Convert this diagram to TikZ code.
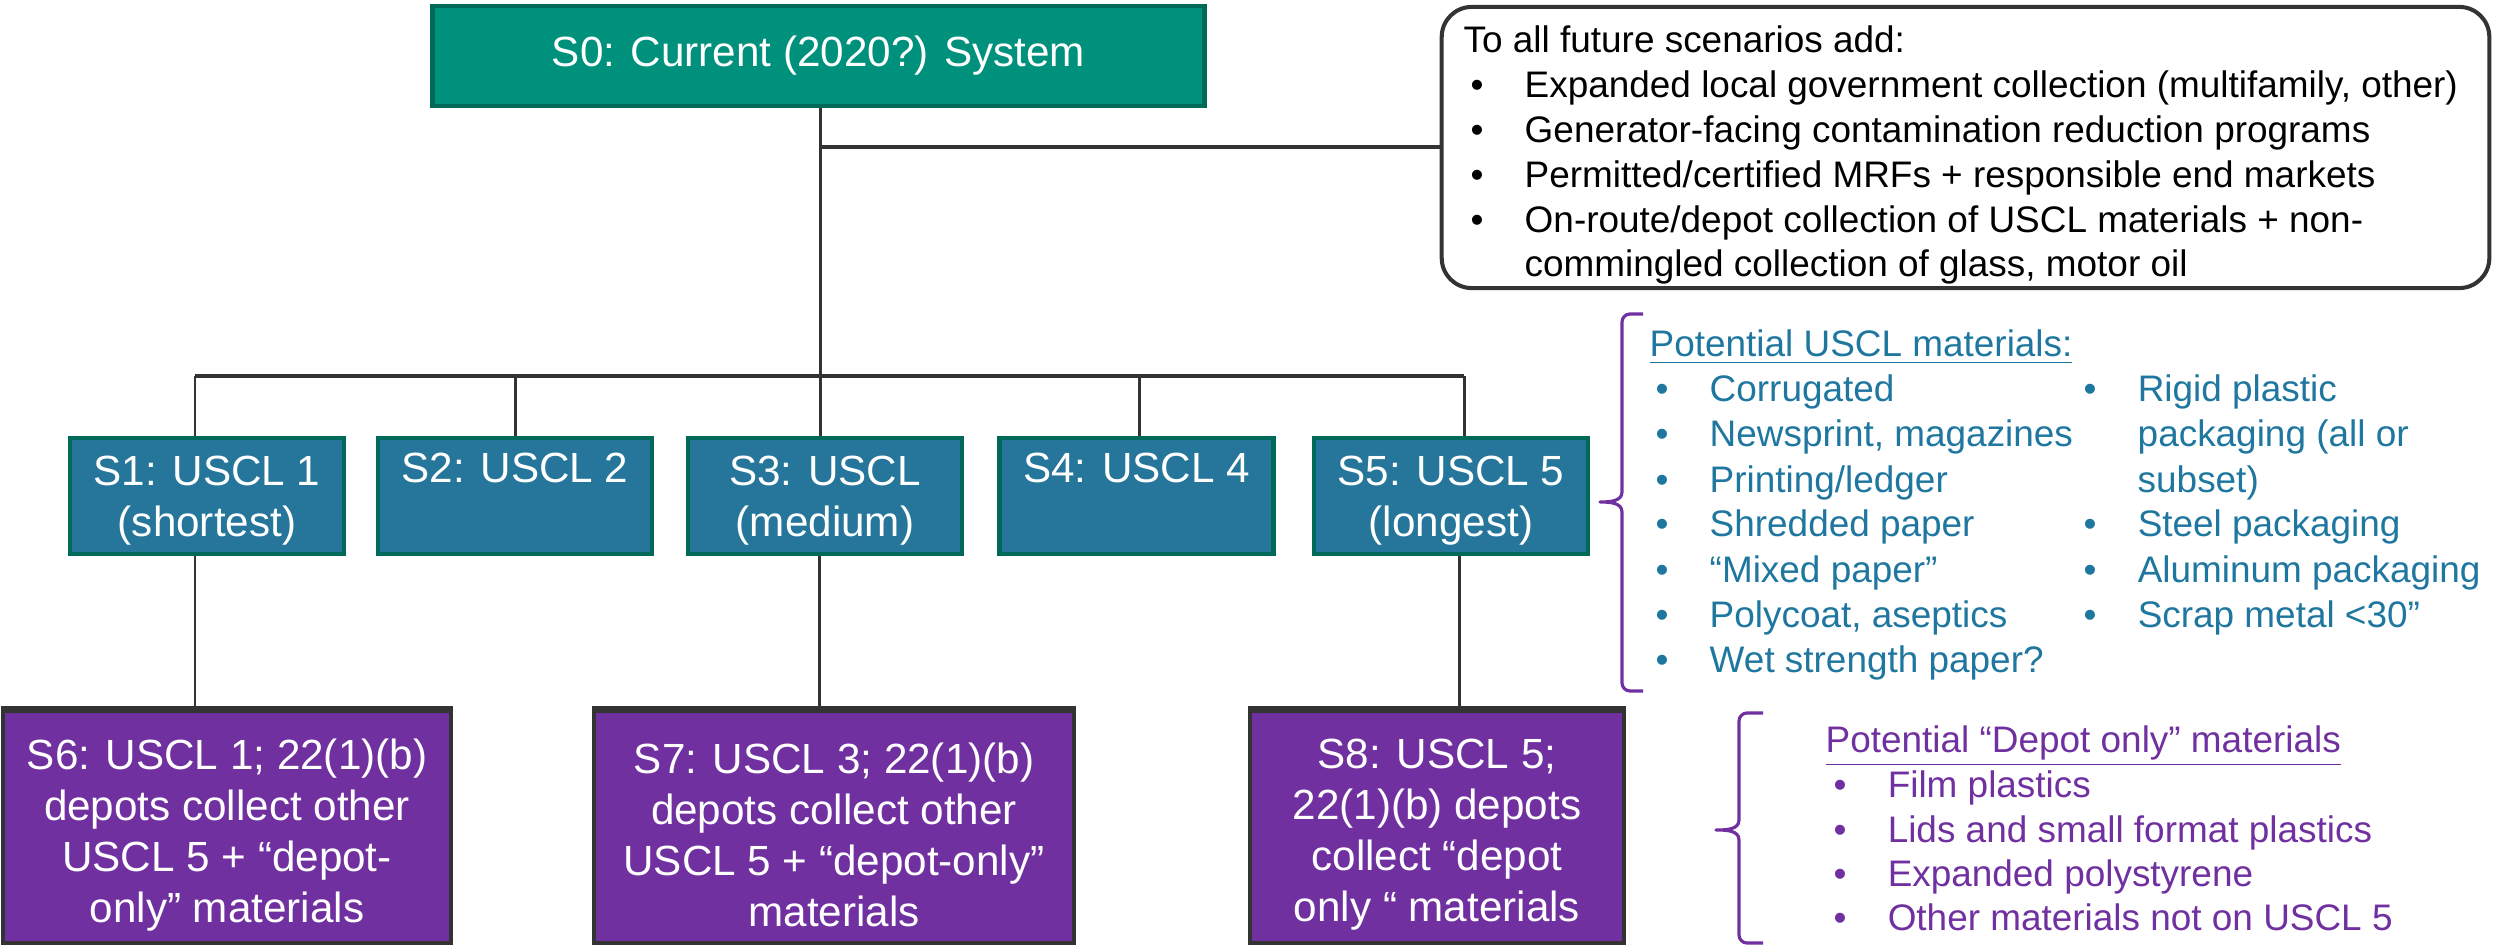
\documentclass[tikz,border=0pt]{standalone}
\usepackage{fontspec}
\setmainfont{Liberation Sans}
\definecolor{teal0}{HTML}{00917D}
\definecolor{tealdark}{HTML}{00695A}
\definecolor{blue1}{HTML}{25769A}
\definecolor{purp}{HTML}{7030A0}
\definecolor{linegray}{HTML}{333333}
\definecolor{listblue}{HTML}{1F77A0}
\newcommand\bitem[1]{\makebox[0.54cm][l]{\textbullet}#1}
\begin{document}
\begin{tikzpicture}[x=0.01cm,y=-0.01cm,
  conn/.style={draw=linegray,line width=0.85pt},
  barline/.style={draw=linegray,line width=1.4pt},
  topbox/.style={draw=tealdark,fill=teal0,line width=1.3pt,text=white,
    font=\fontsize{12}{15.6}\selectfont,align=center,inner sep=0pt,
    minimum width=7.71cm,minimum height=1.0cm},
  midbox/.style={draw=tealdark,fill=blue1,line width=1.2pt,inner sep=0pt,
    minimum width=2.74cm,minimum height=1.16cm},
  lowbox/.style={draw=linegray,fill=purp,line width=1.1pt,inner sep=0pt,
    minimum height=2.32cm},
  boxtext/.style={text=white,font=\fontsize{12}{14.5}\selectfont,align=center,inner sep=0pt},
  notebox/.style={draw=linegray,line width=1.15pt,rounded corners=0.3cm,
    minimum width=10.47cm,minimum height=2.81cm,inner sep=0pt},
  side/.style={anchor=base west,inner sep=0pt,font=\fontsize{10.5}{12.6}\selectfont},
  bracepath/.style={draw=purp,line width=0.9pt,line join=round}
]
\useasboundingbox (0,0) rectangle (2494,946);

% top box and note
\node[topbox] (S0) at (818.5,56) {S0: Current (2020?) System};
\node[notebox] (note) at (1965.5,147.5) {};

% level 1
\node[midbox] (S1) at (207,496) {};
\node[midbox] (S2) at (515,496) {};
\node[midbox] (S3) at (825,496) {};
\node[midbox] (S4) at (1136.5,496) {};
\node[midbox] (S5) at (1451,496) {};
\node[boxtext] (S1t) at ([yshift=-0.05cm]S1.center) {S1: USCL 1\\(shortest)};
\node[boxtext] (S2t) at ([yshift=-0.05cm]S2.center) {S2: USCL 2\\\strut};
\node[boxtext] (S3t) at ([yshift=-0.05cm]S3.center) {S3: USCL\\(medium)};
\node[boxtext] (S4t) at ([yshift=-0.05cm]S4.center) {S4: USCL 4\\\strut};
\node[boxtext] (S5t) at ([yshift=-0.05cm]S5.center) {S5: USCL 5\\(longest)};

% level 2
\node[lowbox,minimum width=4.48cm] (S6) at (227,827) {};
\node[lowbox,minimum width=4.80cm] (S7) at (834,827) {};
\node[lowbox,minimum width=3.74cm] (S8) at (1437,827) {};
\draw[linegray,line width=1.6pt] (S6.north west) -- (S6.north east);
\draw[linegray,line width=1.6pt] (S7.north west) -- (S7.north east);
\draw[linegray,line width=1.6pt] (S8.north west) -- (S8.north east);
\node[boxtext] (S6t) at ([yshift=-0.08cm]S6.center) {S6: USCL 1; 22(1)(b)\\depots collect other\\USCL 5 + “depot-\\only” materials};
\node[boxtext] (S7t) at ([yshift=-0.08cm]S7.center) {S7: USCL 3; 22(1)(b)\\depots collect other\\USCL 5 + “depot-only”\\materials};
\node[boxtext] (S8t) at ([yshift=-0.08cm]S8.center) {S8: USCL 5;\\22(1)(b) depots\\collect “depot\\only “ materials};

% connectors
\coordinate (j0) at (820,376);
\coordinate (jn) at (820,147);
\draw[conn] (S0.south -| j0) -- (j0);
\draw[conn,line width=1.1pt] (jn) -- (jn -| note.west);
\coordinate (b1) at (195,376);
\coordinate (b2) at (515,376);
\coordinate (b3) at (820,376);
\coordinate (b4) at (1139,376);
\coordinate (b5) at (1464,376);
\draw[barline] (b1) -- (b5);
\draw[conn] (b1) -- (b1 |- S1.north);
\draw[conn] (b2) -- (b2 |- S2.north);
\draw[conn] (b3) -- (b3 |- S3.north);
\draw[conn] (b4) -- (b4 |- S4.north);
\draw[conn] (b5) -- (b5 |- S5.north);
\coordinate (d6) at (195,0);
\coordinate (d7) at (819,0);
\coordinate (d8) at (1459,0);
\draw[conn] (d6 |- S1.south) -- (d6 |- S6.north);
\draw[conn] (d7 |- S3.south) -- (d7 |- S7.north);
\draw[conn] (d8 |- S5.south) -- (d8 |- S8.north);

% note text
\node[side] (n0) at (1463,53) {To all future scenarios add:};
\node[side] (n1) at (1470,98) {\bitem{Expanded local government collection (multifamily, other)}};
\node[side] (n2) at (1470,143) {\bitem{Generator-facing contamination reduction programs}};
\node[side] (n3) at (1470,188) {\bitem{Permitted/certified MRFs + responsible end markets}};
\node[side] (n4) at (1470,233) {\bitem{On-route/depot collection of USCL materials + non-}};
\node[side] (n5) at (1524,277) {commingled collection of glass, motor oil};

% USCL materials brace and list
\draw[bracepath] (1643,314) -- (1630,314) to[out=180,in=90] (1622,322) -- (1622,492)
  to[out=-90,in=0] (1600,502) to[out=0,in=90] (1622,512) -- (1622,683)
  to[out=-90,in=180] (1630,691) -- (1643,691);
\begin{scope}[every node/.append style={text=listblue}]
\node[side] (u0) at (1649,357) {\underline{Potential USCL materials:}};
\node[side] (u1) at (1655,402) {\bitem{Corrugated}};
\node[side] (u2) at (1655,447) {\bitem{Newsprint, magazines}};
\node[side] (u3) at (1655,492) {\bitem{Printing/ledger}};
\node[side] (u4) at (1655,537) {\bitem{Shredded paper}};
\node[side] (u5) at (1655,582) {\bitem{“Mixed paper”}};
\node[side] (u6) at (1655,627) {\bitem{Polycoat, aseptics}};
\node[side] (u7) at (1655,672) {\bitem{Wet strength paper?}};
\node[side] (v1) at (2083,402) {\bitem{Rigid plastic}};
\node[side] (v2) at (2137,447) {packaging (all or};
\node[side] (v3) at (2137,492) {subset)};
\node[side] (v4) at (2083,537) {\bitem{Steel packaging}};
\node[side] (v5) at (2083,582) {\bitem{Aluminum packaging}};
\node[side] (v6) at (2083,627) {\bitem{Scrap metal <30”}};
\end{scope}

% depot-only brace and list
\draw[bracepath] (1763,713) -- (1747,713) to[out=180,in=90] (1739,721) -- (1739,820)
  to[out=-90,in=0] (1716,830) to[out=0,in=90] (1739,840) -- (1739,935)
  to[out=-90,in=180] (1747,943) -- (1763,943);
\begin{scope}[every node/.append style={text=purp}]
\node[side] (p0) at (1825,752) {\underline{Potential “Depot only” materials}};
\node[side] (p1) at (1833,797) {\bitem{Film plastics}};
\node[side] (p2) at (1833,842) {\bitem{Lids and small format plastics}};
\node[side] (p3) at (1833,886) {\bitem{Expanded polystyrene}};
\node[side] (p4) at (1833,930) {\bitem{Other materials not on USCL 5}};
\end{scope}
\end{tikzpicture}
\end{document}
